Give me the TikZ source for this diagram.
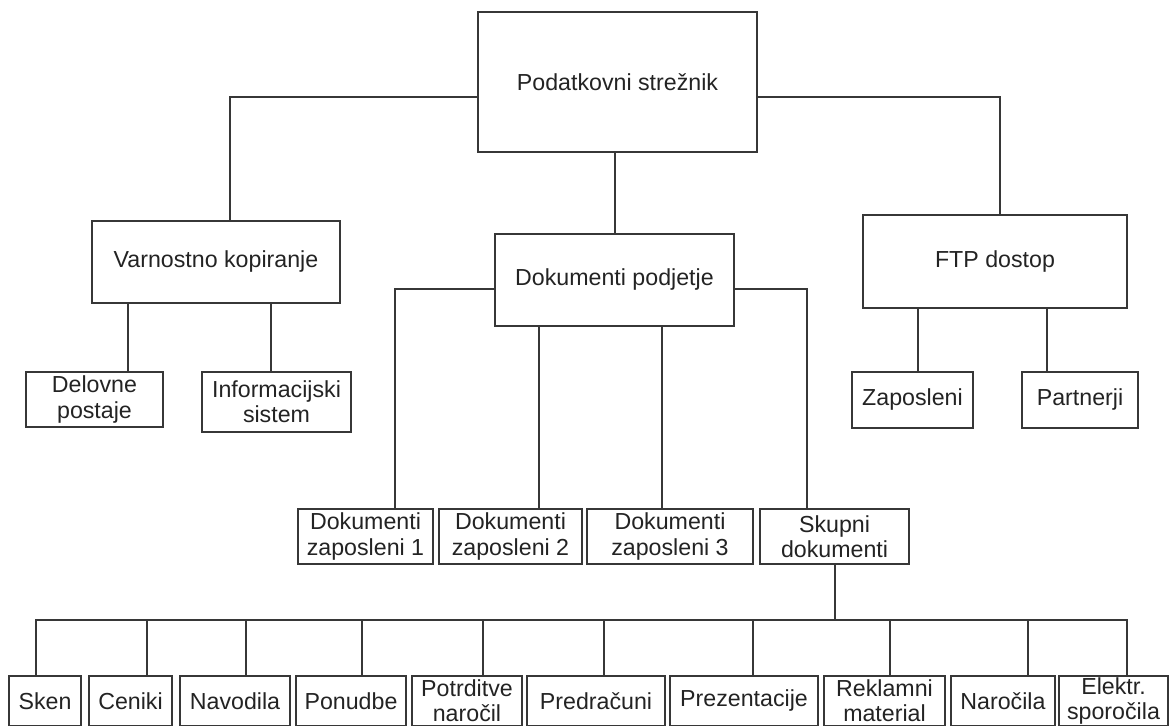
\documentclass[tikz,border=0pt]{standalone}
\usepackage{fontspec}
\setmainfont{Liberation Sans}
\usetikzlibrary{positioning}
\definecolor{LineGray}{RGB}{55,55,55}
\definecolor{TextGray}{RGB}{35,35,35}

\begin{document}
\begin{tikzpicture}[x=0.02cm,y=-0.02cm,
    box/.style 2 args={draw=LineGray,line width=0.8pt,inner sep=0pt,align=center,
      minimum width=#1*0.02cm,minimum height=#2*0.02cm,text=TextGray,
      font=\fontsize{13.2}{14.4}\selectfont},
    link/.style={LineGray,line width=0.8pt}]
  \useasboundingbox (0,0) rectangle (1170,726);
  \node[box={279}{140}] (server) at (617.5,82) {Podatkovni strežnik};
  \node[box={248}{82}] (backup) at (216,262) {Varnostno kopiranje};
  \node[box={239}{92}] (company) at (614.5,280) {Dokumenti podjetje};
  \node[box={264}{93}] (ftp) at (995,261.5) {FTP dostop};
  \node[box={137}{55}] (stations) at (94.5,399.5) {Delovne\\postaje};
  \node[box={149}{60}] (infosys) at (276.5,402) {Informacijski\\sistem};
  \node[box={121}{56}] (staff) at (912.5,400) {Zaposleni};
  \node[box={116}{56}] (partners) at (1080,400) {Partnerji};
  \node[box={135}{55}] (emp1) at (365.5,536.5) {Dokumenti\\zaposleni 1};
  \node[box={143}{55}] (emp2) at (510.5,536.5) {Dokumenti\\zaposleni 2};
  \node[box={166}{55}] (emp3) at (670,536.5) {Dokumenti\\zaposleni 3};
  \node[box={149}{55}] (common) at (834.5,536.5) {Skupni\\dokumenti};
  \coordinate (bus) at (835,620);

  \draw[link] (server.west |- 0,97) -| (backup.north -| 230,0);
  \draw[link] (server.east |- 0,97) -| (ftp.north -| 1000,0);
  \draw[link] (server.south -| 615,0) -- (company.north -| 615,0);
  \draw[link] (backup.south -| 128,0) -- (stations.north -| 128,0);
  \draw[link] (backup.south -| 271,0) -- (infosys.north -| 271,0);
  \draw[link] (ftp.south -| 918,0) -- (staff.north -| 918,0);
  \draw[link] (ftp.south -| 1047,0) -- (partners.north -| 1047,0);
  \draw[link] (company.west |- 0,289) -| (emp1.north -| 395,0);
  \draw[link] (company.south -| 539,0) -- (emp2.north -| 539,0);
  \draw[link] (company.south -| 662,0) -- (emp3.north -| 662,0);
  \draw[link] (company.east |- 0,289) -| (common.north -| 807,0);
  \draw[link] (common.south -| bus) -- (bus);

  \foreach \name/\cx/\w/\vx/\txt in {
      scan/45/72/36/Sken,
      prices/130.5/83/147/Ceniki,
      manuals/235/110/246/Navodila,
      offers/351/110/362/Ponudbe,
      confirm/467/110/483/{Potrditve\\naročil},
      invoices/596/138/604/Predračuni,
      slides/744/148/753/Prezentacije,
      ads/884.5/121/890/{Reklamni\\material},
      orders/1003/104/1028/Naročila,
      mail/1113.5/109/1127/{Elektr.\\sporočila}} {
    \node[box={\w}{50}] (\name) at (\cx,701) {\txt};
    \draw[link] (bus) -| (\name.north -| \vx,0);
  }
\end{tikzpicture}
\end{document}
